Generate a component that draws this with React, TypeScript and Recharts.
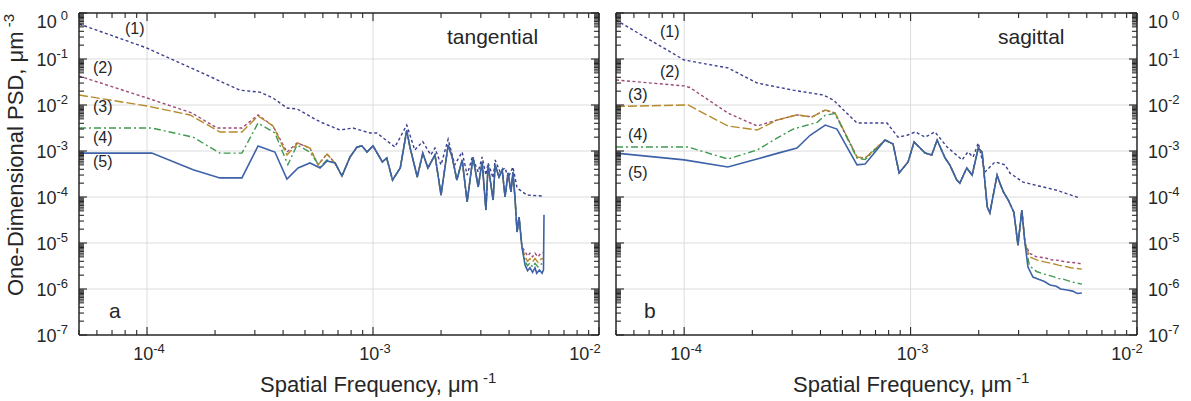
import React from 'react';
import { LineChart, Line, XAxis, YAxis, ReferenceLine } from 'recharts';

const FONT = '"Liberation Sans", Arial, Helvetica, sans-serif';
const INK = '#262626';
const GRID = '#dcdcdc';

// ---------- axis ticks ----------
const xTickValues = [5e-5, 6e-5, 7e-5, 8e-5, 9e-5, 1e-4, 2e-4, 3e-4, 4e-4, 5e-4, 6e-4, 7e-4, 8e-4, 9e-4, 1e-3, 2e-3, 3e-3, 4e-3, 5e-3, 6e-3, 7e-3, 8e-3, 9e-3, 1e-2];
const yDecadeExps = [-7, -6, -5, -4, -3, -2, -1, 0];
const yMinorMantissas = [2, 3, 4, 5, 5.5, 6, 6.5, 7, 7.5, 8, 8.5, 9, 9.5];
const xGridValues = [1e-4, 1e-3];
const yGridValues = [1e-6, 1e-5, 1e-4, 1e-3, 1e-2, 1e-1];
const yTickValues = yDecadeExps.flatMap((e) =>
  e === 0 ? [1] : [Number(`1e${e}`), ...yMinorMantissas.map((m) => Number(`${m}e${e}`))]
);

// ---------- panel a (tangential) ----------
const aF1 = [5.0e-5, 1.0e-4, 2.58e-4, 3.16e-4, 3.61e-4, 4.16e-4, 4.61e-4, 5.83e-4, 7.14e-4, 8.16e-4, 9.7e-4, 1.04e-3, 1.25e-3, 1.41e-3, 1.53e-3, 1.66e-3, 1.8e-3, 1.88e-3, 2.0e-3, 2.15e-3, 2.3e-3, 2.48e-3, 2.61e-3, 2.75e-3, 2.92e-3, 3.04e-3, 3.16e-3, 3.23e-3, 3.4e-3, 3.47e-3, 3.65e-3, 3.84e-3, 3.96e-3, 4.16e-3, 4.34e-3, 4.8e-3, 5.65e-3];
const aV1 = [0.58, 0.173, 0.021, 0.019, 0.0142, 8.6e-3, 8.2e-3, 4.3e-3, 2.86e-3, 3.16e-3, 2.46e-3, 2.46e-3, 1.22e-3, 3.67e-3, 1.05e-3, 1.6e-3, 8.2e-4, 1.16e-3, 5.0e-4, 1.8e-3, 5.0e-4, 9.5e-4, 3.0e-4, 7.4e-4, 3.5e-4, 7.4e-4, 3.0e-4, 5.5e-4, 2.6e-4, 6.4e-4, 3.5e-4, 4.3e-4, 2.6e-4, 4.5e-4, 1.57e-4, 1.1e-4, 1.05e-4];

const aF2 = [5.0e-5, 1.0e-4, 1.58e-4, 2.04e-4, 2.63e-4, 3.1e-4, 3.61e-4, 4.16e-4, 4.61e-4, 5.26e-4, 5.71e-4, 6.26e-4];
const aV2 = [0.0427, 0.0142, 6.7e-3, 3.16e-3, 3.16e-3, 6.07e-3, 3.5e-3, 9.5e-4, 1.49e-3, 1.16e-3, 5.0e-4, 8.6e-4];
const aF3 = [5.0e-5, 1.0e-4, 1.55e-4, 2.1e-4, 2.63e-4, 3.1e-4, 3.61e-4, 4.16e-4, 4.66e-4, 5.26e-4, 5.71e-4, 6.26e-4];
const aV3 = [0.0165, 9.5e-3, 6.07e-3, 2.59e-3, 2.59e-3, 5.77e-3, 3.5e-3, 8.2e-4, 1.49e-3, 1.16e-3, 5.0e-4, 8.6e-4];
const aF4 = [5.0e-5, 1.05e-4, 1.6e-4, 2.1e-4, 2.63e-4, 3.1e-4, 3.68e-4, 4.2e-4, 4.61e-4, 5.26e-4, 5.83e-4, 6.26e-4];
const aV4 = [3.16e-3, 3.16e-3, 2.0e-3, 9.0e-4, 9.0e-4, 4.06e-3, 2.46e-3, 5.0e-4, 1.35e-3, 9.5e-4, 4.5e-4, 6.4e-4];

const aF5 = [5.0e-5, 1.05e-4, 1.6e-4, 2.1e-4, 2.63e-4, 3.1e-4, 3.68e-4, 4.16e-4, 4.66e-4, 5.26e-4, 5.83e-4, 6.26e-4, 6.79e-4, 7.29e-4, 7.91e-4, 8.5e-4, 8.94e-4, 9.4e-4, 1.0e-3, 1.1e-3, 1.15e-3, 1.22e-3, 1.32e-3, 1.41e-3, 1.46e-3, 1.57e-3, 1.66e-3, 1.75e-3, 1.88e-3, 2.0e-3, 2.15e-3, 2.24e-3, 2.35e-3, 2.48e-3, 2.61e-3, 2.77e-3, 2.92e-3, 3.04e-3, 3.16e-3, 3.23e-3, 3.4e-3, 3.47e-3, 3.61e-3, 3.73e-3, 3.84e-3, 3.96e-3, 4.08e-3, 4.16e-3, 4.25e-3, 4.34e-3, 4.43e-3, 4.56e-3, 4.71e-3, 4.83e-3, 4.95e-3, 5.08e-3, 5.21e-3, 5.3e-3, 5.45e-3, 5.6e-3, 5.68e-3, 5.71e-3];
const aV5 = [9.0e-4, 9.0e-4, 3.9e-4, 2.6e-4, 2.6e-4, 1.29e-3, 9.5e-4, 2.46e-4, 4.27e-4, 5.5e-4, 4.27e-4, 6.07e-4, 5.48e-4, 2.86e-4, 7.4e-4, 1.22e-3, 1.29e-3, 9.5e-4, 1.29e-3, 5.77e-4, 7.05e-4, 2.34e-4, 4.27e-4, 2.8e-3, 1.16e-3, 2.72e-4, 9.0e-4, 4.27e-4, 8.2e-4, 1.1e-4, 1.35e-3, 7.4e-4, 2.34e-4, 6.4e-4, 7.8e-5, 7.4e-4, 1.65e-4, 5.8e-4, 5.2e-5, 5.0e-4, 8.6e-5, 5.0e-4, 2.72e-4, 3.87e-4, 1.0e-4, 3.33e-4, 1.29e-4, 3.5e-4, 9.5e-5, 1.73e-5, 3.67e-5, 8.2e-6, 3.3e-6, 2.5e-6, 2.9e-6, 2.3e-6, 2.9e-6, 2.2e-6, 2.6e-6, 2.2e-6, 2.6e-6, 4.1e-5];

const aTailF = [4.71e-3, 4.83e-3, 4.95e-3, 5.08e-3, 5.21e-3, 5.37e-3, 5.5e-3, 5.65e-3];
const aTail2 = [6.5e-6, 5.2e-6, 6.0e-6, 5.0e-6, 6.0e-6, 5.0e-6, 5.8e-6, 6.2e-6];
const aTail3 = [5.0e-6, 4.0e-6, 4.6e-6, 3.9e-6, 4.6e-6, 3.8e-6, 4.4e-6, 4.6e-6];
const aTail4 = [4.0e-6, 3.2e-6, 3.7e-6, 3.0e-6, 3.6e-6, 3.0e-6, 3.4e-6, 3.6e-6];
const aMidRange = [6.7e-4, 4.56e-3];

// ---------- panel b (sagittal) ----------
const bF1 = [5.0e-5, 1.0e-4, 1.56e-4, 2.1e-4, 3.03e-4, 4.11e-4, 4.55e-4, 5.8e-4, 7.87e-4, 8.8e-4, 9.66e-4, 1.05e-3, 1.16e-3, 1.28e-3, 1.45e-3, 1.69e-3, 1.79e-3, 1.89e-3, 1.99e-3, 2.13e-3, 2.36e-3, 2.61e-3, 2.75e-3, 3.14e-3, 4.43e-3, 5.6e-3];
const bV1 = [0.7, 0.095, 0.064, 0.03, 0.021, 0.0165, 0.0129, 4.06e-3, 4.06e-3, 2.0e-3, 2.2e-3, 2.6e-3, 2.0e-3, 2.6e-3, 1.22e-3, 6.4e-4, 9.5e-4, 7.4e-4, 1.49e-3, 3.5e-4, 5.8e-4, 5.0e-4, 3.3e-4, 2.1e-4, 1.4e-4, 9.5e-5];

const bF2 = [5.0e-5, 1.0e-4, 1.06e-4, 1.56e-4, 2.1e-4, 2.57e-4, 3.15e-4, 3.67e-4, 4.2e-4, 4.64e-4, 5.8e-4, 6.3e-4];
const bV2 = [0.035, 0.026, 0.024, 6.7e-3, 3.5e-3, 4.7e-3, 6.1e-3, 5.5e-3, 7.8e-3, 6.7e-3, 7.4e-4, 7.0e-4];
const bF3 = [5.0e-5, 1.04e-4, 1.56e-4, 2.1e-4, 2.57e-4, 3.15e-4, 3.67e-4, 4.2e-4, 4.64e-4, 5.8e-4, 6.3e-4];
const bV3 = [9.3e-3, 0.01, 3.5e-3, 2.86e-3, 4.7e-3, 6.1e-3, 5.5e-3, 7.8e-3, 6.7e-3, 7.4e-4, 7.0e-4];
const bF4 = [5.0e-5, 1.04e-4, 1.56e-4, 2.1e-4, 2.57e-4, 3.03e-4, 3.87e-4, 4.2e-4, 4.64e-4, 5.8e-4, 6.3e-4];
const bV4 = [1.22e-3, 1.22e-3, 6.7e-4, 1.05e-3, 1.9e-3, 3.0e-3, 4.2e-3, 6.0e-3, 6.5e-3, 7.0e-4, 6.5e-4];

const bF5 = [5.0e-5, 1.0e-4, 1.56e-4, 2.1e-4, 2.6e-4, 3.15e-4, 3.6e-4, 4.2e-4, 4.73e-4, 5.8e-4, 6.3e-4, 7.71e-4, 8.37e-4, 8.9e-4, 9.75e-4, 1.036e-3, 1.16e-3, 1.24e-3, 1.31e-3, 1.42e-3, 1.49e-3, 1.6e-3, 1.65e-3, 1.77e-3, 1.87e-3, 1.99e-3, 2.07e-3, 2.18e-3, 2.24e-3, 2.41e-3, 2.48e-3, 2.57e-3, 2.7e-3, 2.86e-3, 2.98e-3, 3.1e-3, 3.2e-3, 3.3e-3, 3.47e-3, 3.7e-3, 3.9e-3, 4.13e-3, 4.4e-3, 4.6e-3, 4.91e-3, 5.2e-3, 5.45e-3, 5.71e-3];
const bV5 = [9.0e-4, 6.4e-4, 4.5e-4, 6.7e-4, 9.0e-4, 1.16e-3, 2.2e-3, 3.67e-3, 3.0e-3, 5.0e-4, 5.2e-4, 1.73e-3, 1.42e-3, 3.33e-4, 5.8e-4, 1.57e-3, 9.0e-4, 8.2e-4, 1.73e-3, 7.05e-4, 5.0e-4, 2.34e-4, 2.0e-4, 4.27e-4, 3.0e-4, 1.16e-3, 9.5e-4, 6.1e-5, 4.5e-5, 3.0e-4, 2.0e-4, 1.29e-4, 8.6e-5, 4.6e-5, 9.0e-6, 5.2e-5, 1.0e-5, 3.0e-6, 1.82e-6, 1.6e-6, 1.45e-6, 1.22e-6, 1.15e-6, 1.0e-6, 9.5e-7, 9.0e-7, 8.0e-7, 8.2e-7];

const bTailF = [3.35e-3, 3.6e-3, 3.9e-3, 4.2e-3, 4.5e-3, 4.8e-3, 5.1e-3, 5.4e-3, 5.71e-3];
const bTail2 = [6.0e-6, 5.0e-6, 4.8e-6, 4.3e-6, 4.2e-6, 3.9e-6, 3.8e-6, 3.7e-6, 3.5e-6];
const bTail3 = [5.0e-6, 4.3e-6, 3.9e-6, 3.6e-6, 3.3e-6, 3.1e-6, 2.9e-6, 2.8e-6, 2.7e-6];
const bTail4 = [3.2e-6, 2.4e-6, 2.1e-6, 1.9e-6, 1.7e-6, 1.6e-6, 1.45e-6, 1.35e-6, 1.28e-6];
const bMidRange = [7.7e-4, 3.2e-3];

// ---------- helpers ----------
type Pt = { f: number; v: number };
const zip = (f: number[], v: number[]): Pt[] => f.map((x, i) => ({ f: x, v: v[i] }));
const joined = (hf: number[], hv: number[], mf: number[], mv: number[], range: number[], tf: number[], tv: number[]): Pt[] => [
  ...zip(hf, hv),
  ...zip(mf, mv).filter((p) => p.f >= range[0] && p.f <= range[1]),
  ...zip(tf, tv),
];

const panelA: Pt[][] = [
  zip(aF1, aV1),
  joined(aF2, aV2, aF5, aV5, aMidRange, aTailF, aTail2),
  joined(aF3, aV3, aF5, aV5, aMidRange, aTailF, aTail3),
  joined(aF4, aV4, aF5, aV5, aMidRange, aTailF, aTail4),
  zip(aF5, aV5),
];
const panelB: Pt[][] = [
  zip(bF1, bV1),
  joined(bF2, bV2, bF5, bV5, bMidRange, bTailF, bTail2),
  joined(bF3, bV3, bF5, bV5, bMidRange, bTailF, bTail3),
  joined(bF4, bV4, bF5, bV5, bMidRange, bTailF, bTail4),
  zip(bF5, bV5),
];

const seriesStyles = [
  { color: '#3b3f8f', dash: '3 2.5', w: 1.4 },
  { color: '#9c4a78', dash: '3 2.5', w: 1.4 },
  { color: '#b58a2a', dash: '9 3', w: 1.4 },
  { color: '#3f9a52', dash: '7 3 2 3', w: 1.4 },
  { color: '#3e62a8', dash: undefined as string | undefined, w: 1.6 },
];

const isDecade = (v: number) => Math.abs(Math.log10(v) - Math.round(Math.log10(v))) < 1e-6;

type Side = 'left' | 'right' | 'top' | 'bottom';
function makeTick(side: Side, withLabel: boolean, lastShift = 0) {
  return (props: any) => {
    const { x, y, payload } = props;
    const v = payload?.value;
    if (v == null || x == null || y == null) return <g />;
    const major = isDecade(v);
    const len = major ? 8 : 5;
    const e = Math.round(Math.log10(v));
    let x2 = x;
    let y2 = y;
    if (side === 'left') x2 = x + len;
    else if (side === 'right') x2 = x - len;
    else if (side === 'bottom') y2 = y - len;
    else y2 = y + len;
    let label: React.ReactNode = null;
    if (withLabel && major) {
      const exp = e < 0 ? `-${-e}` : `${e}`;
      const common = { fill: INK, fontFamily: FONT, fontSize: 18 };
      if (side === 'bottom') {
        const shift = e === -2 ? lastShift : 2;
        label = (
          <text x={x + shift} y={y + 25} textAnchor="middle" {...common}>
            10<tspan dy={-7} fontSize={13}>{exp}</tspan>
          </text>
        );
      } else if (side === 'left' || side === 'right') {
        const tx = side === 'left' ? x - 11 : x + 11;
        label = (
          <text x={tx} y={y + (e === 0 ? 15 : 7)} textAnchor={side === 'left' ? 'end' : 'start'} {...common}>
            10<tspan dx={e === 0 ? 4 : 0} dy={-8} fontSize={13}>{exp}</tspan>
          </text>
        );
      }
    }
    return (
      <g>
        <line x1={x} y1={y} x2={x2} y2={y2} stroke={INK} strokeWidth={1.1} />
        {label}
      </g>
    );
  };
}

const axisLine = { stroke: INK, strokeWidth: 1.5 };

type PanelProps = {
  left: number;
  width: number;
  plotLeft: number;
  plotRight: number;
  data: Pt[][];
  labelSide: 'left' | 'right';
  lastShift: number;
};

function Panel({ left, width, plotLeft, plotRight, data, labelSide, lastShift }: PanelProps) {
  const xCommon = {
    dataKey: 'f',
    type: 'number' as const,
    scale: 'log' as const,
    domain: [5e-5, 1e-2],
    allowDataOverflow: true,
    ticks: xTickValues,
    interval: 0,
    tickSize: 0,
    tickMargin: 0,
    tickLine: false,
    axisLine,
  };
  const yCommon = {
    type: 'number' as const,
    scale: 'log' as const,
    domain: [1e-7, 1],
    allowDataOverflow: true,
    ticks: yTickValues,
    interval: 0,
    tickSize: 0,
    tickMargin: 0,
    tickLine: false,
    axisLine,
  };
  return (
    <div style={{ position: 'absolute', left, top: 0 }}>
      <LineChart width={width} height={401} margin={{ top: 0, right: 0, bottom: 0, left: 0 }}>
        <XAxis xAxisId="b" orientation="bottom" height={66} {...xCommon} tick={makeTick('bottom', true, lastShift)} />
        <XAxis xAxisId="t" orientation="top" height={13} {...xCommon} tick={makeTick('top', false)} />
        <YAxis yAxisId="l" orientation="left" width={plotLeft} {...yCommon} tick={makeTick('left', labelSide === 'left')} />
        <YAxis yAxisId="r" orientation="right" width={width - plotRight} {...yCommon} tick={makeTick('right', labelSide === 'right')} />
        {xGridValues.map((g) => (
          <ReferenceLine key={`gx${g}`} xAxisId="b" yAxisId="l" x={g} stroke={GRID} strokeWidth={1} />
        ))}
        {yGridValues.map((g) => (
          <ReferenceLine key={`gy${g}`} xAxisId="b" yAxisId="l" y={g} stroke={GRID} strokeWidth={1} />
        ))}
        {data.map((d, i) => (
          <Line
            key={`s${i}`}
            xAxisId="b"
            yAxisId="l"
            data={d}
            dataKey="v"
            type="linear"
            stroke={seriesStyles[i].color}
            strokeWidth={seriesStyles[i].w}
            strokeDasharray={seriesStyles[i].dash}
            dot={false}
            activeDot={false}
            isAnimationActive={false}
          />
        ))}
      </LineChart>
    </div>
  );
}

const textStyle = { fill: INK, fontFamily: FONT };

export default function App() {
  return (
    <div style={{ position: 'absolute', left: 0, top: 0, width: 1191, height: 401, background: '#fff' }}>
      <Panel left={0} width={610} plotLeft={79} plotRight={599} data={panelA} labelSide="left" lastShift={-14} />
      <Panel left={600} width={591} plotLeft={16} plotRight={537} data={panelB} labelSide="right" lastShift={-10} />
      <svg width={1191} height={401} style={{ position: 'absolute', left: 0, top: 0, pointerEvents: 'none' }}>
        <text transform="translate(23,155) rotate(-90)" textAnchor="middle" fontSize={22} {...textStyle}>
          One-Dimensional PSD, μm<tspan dy={-9} fontSize={15}> -3</tspan>
        </text>
        <text x={260} y={392} fontSize={22} {...textStyle}>
          Spatial Frequency, μm<tspan dy={-9} fontSize={15}> -1</tspan>
        </text>
        <text x={793} y={392} fontSize={22} {...textStyle}>
          Spatial Frequency, μm<tspan dy={-9} fontSize={15}> -1</tspan>
        </text>
        <text x={447} y={44} fontSize={21} {...textStyle}>tangential</text>
        <text x={998} y={44} fontSize={21} {...textStyle}>sagittal</text>
        <text x={109} y={318} fontSize={21} {...textStyle}>a</text>
        <text x={644} y={318} fontSize={21} {...textStyle}>b</text>
        <text x={125} y={34} fontSize={16} {...textStyle}>(1)</text>
        <text x={93} y={73} fontSize={16} {...textStyle}>(2)</text>
        <text x={93} y={112} fontSize={16} {...textStyle}>(3)</text>
        <text x={93} y={143} fontSize={16} {...textStyle}>(4)</text>
        <text x={93} y={167} fontSize={16} {...textStyle}>(5)</text>
        <text x={660} y={37} fontSize={16} {...textStyle}>(1)</text>
        <text x={660} y={77} fontSize={16} {...textStyle}>(2)</text>
        <text x={628} y={100} fontSize={16} {...textStyle}>(3)</text>
        <text x={628} y={140} fontSize={16} {...textStyle}>(4)</text>
        <text x={628} y={178} fontSize={16} {...textStyle}>(5)</text>
      </svg>
    </div>
  );
}
